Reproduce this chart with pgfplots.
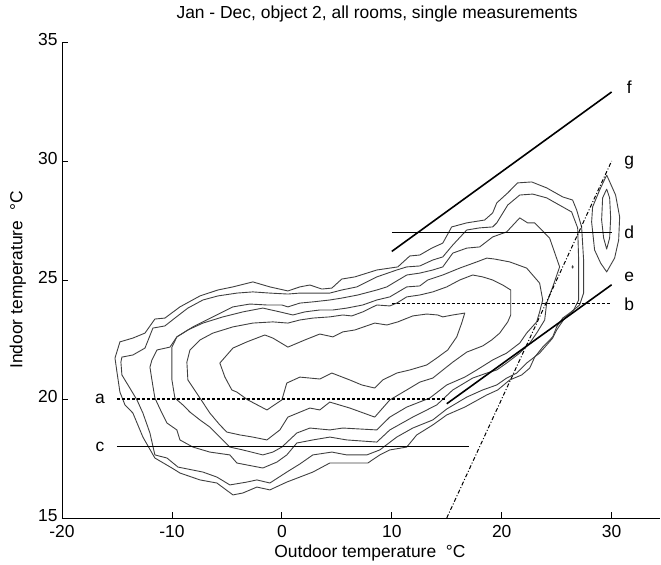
\documentclass[border=0pt]{standalone}
\usepackage{pgfplots}
\pgfplotsset{compat=1.18}
\usepackage{fontspec}
\setmainfont{Liberation Sans}
\begin{document}
\begin{tikzpicture}
\begin{axis}[
  scale only axis, width=598bp, height=476bp,
  xmin=-20, xmax=34.4, ymin=15, ymax=35,
  axis x line=bottom, axis y line=left,
  axis line style={-, line width=0.8bp, black},
  xtick={-20,-10,0,10,20,30}, ytick={15,20,25,30,35},
  tick align=inside, major tick length=6bp,
  tick style={line width=0.8bp, black},
  /pgf/number format/assume math mode=true,
  ticklabel style={font=\fontsize{17.5}{20}\selectfont},
  xticklabel style={yshift=-3.5bp},
  yticklabel style={xshift=-1bp, yshift=2.5bp},
  label style={font=\fontsize{17.5}{20}\selectfont},
  title style={font=\fontsize{17.5}{20}\selectfont, at={(axis description cs:0.527,1.046)}, anchor=center},
  title={Jan - Dec, object 2, all rooms, single measurements},
  xlabel={Outdoor temperature \ °C},
  ylabel={Indoor temperature \ °C},
  xlabel style={at={(axis description cs:0.515,-0.0735)}, anchor=center},
  ylabel style={at={(axis description cs:-0.0736,0.5)}, anchor=center, rotate=0},
  clip=false,
  every axis plot/.append style={no markers, line join=round},
  cont/.style={black!75, line width=0.9bp},
  ln/.style={black, line width=1.6bp},
]
% contour 1 (outermost)
\addplot[cont] coordinates {(-15.18,21.72) (-14.73,22.40) (-13.55,22.56) (-12.45,22.77) (-11.55,23.36) (-10.64,23.40) (-9.27,23.87) (-7.45,24.33) (-5.82,24.58) (-4.45,24.71) (-2.64,24.92) (-1.09,24.71) (0.55,24.54) (1.64,24.71) (2.55,24.79) (3.64,24.62) (4.55,24.66) (5.45,25.04) (6.64,25.13) (8.64,25.42) (10.55,25.55) (11.64,26.01) (12.55,26.05) (13.64,26.34) (14.64,26.55) (15.45,27.23) (16.82,27.40) (18.45,27.52) (19.18,27.82) (19.55,28.24) (20.55,28.66) (21.45,29.08) (22.73,29.12) (24.09,28.87) (25.55,28.49) (26.45,28.36) (26.82,27.94) (27.27,27.23) (27.45,25.84) (27.45,24.45) (27.09,23.95) (26.18,23.61) (25.55,23.40) (25.00,23.03) (24.64,22.61) (23.73,22.18) (23.00,21.76) (22.55,21.30) (21.82,21.01) (20.73,20.80) (19.64,20.38) (18.64,20.17) (17.82,19.96) (16.64,19.66) (15.00,19.33) (13.73,18.91) (12.27,18.49) (11.36,17.98) (9.82,17.86) (8.91,17.65) (7.82,17.31) (5.91,17.31) (4.36,17.31) (2.82,16.93) (1.64,16.72) (0.45,16.51) (-1.09,16.18) (-2.27,16.30) (-3.55,16.05) (-4.45,15.97) (-5.91,16.47) (-7.45,16.60) (-9.27,16.89) (-10.00,17.10) (-11.55,17.52) (-12.64,18.40) (-13.55,19.41) (-14.27,19.75) (-14.73,20.29) (-15.00,21.13) (-15.18,21.72)};
% contour 2
\addplot[cont] coordinates {(-14.64,21.55) (-14.55,21.76) (-13.55,21.85) (-12.45,22.14) (-11.73,22.98) (-10.64,23.07) (-9.73,23.40) (-8.55,23.82) (-7.18,24.16) (-5.82,24.33) (-4.09,24.45) (-2.64,24.50) (-1.09,24.45) (0.55,24.41) (1.64,24.45) (2.82,24.45) (4.36,24.45) (5.45,24.58) (6.82,24.71) (8.64,25.13) (10.45,25.42) (11.36,25.55) (12.55,25.59) (13.73,25.84) (14.64,25.97) (15.55,26.47) (16.82,27.10) (18.00,27.19) (19.18,27.23) (19.55,27.40) (20.55,28.15) (21.64,28.57) (22.82,28.61) (24.09,28.45) (25.55,28.07) (26.36,27.86) (26.91,27.19) (27.00,25.84) (27.00,24.16) (26.55,23.74) (25.73,23.40) (25.00,22.90) (24.64,22.56) (23.45,21.93) (22.27,21.51) (21.36,21.09) (20.45,20.88) (19.55,20.59) (18.27,20.38) (16.82,20.08) (15.91,19.83) (15.00,19.58) (13.73,19.12) (11.91,18.78) (10.45,18.40) (8.91,17.86) (7.73,17.65) (5.91,17.65) (4.55,17.77) (2.82,17.65) (1.64,17.27) (0.45,16.93) (-1.09,16.47) (-2.27,16.60) (-3.18,16.51) (-4.73,16.39) (-5.91,16.72) (-7.18,16.93) (-9.45,17.14) (-10.45,17.52) (-11.55,17.65) (-12.00,18.57) (-12.64,19.41) (-13.18,19.96) (-14.00,20.59) (-14.55,21.01) (-14.64,21.55)};
% contour 3
\addplot[cont] coordinates {(-12.00,21.34) (-11.82,21.64) (-11.36,22.06) (-10.18,22.18) (-9.55,22.61) (-8.09,23.03) (-6.27,23.45) (-4.45,23.87) (-2.91,23.99) (-1.36,23.95) (0.00,23.95) (0.55,23.87) (1.64,24.03) (2.82,24.08) (4.36,24.16) (5.45,24.24) (6.91,24.37) (8.64,24.58) (9.55,24.71) (11.36,25.21) (12.55,25.29) (13.73,25.42) (14.64,25.55) (15.55,26.13) (16.82,26.34) (18.00,26.39) (19.18,26.81) (20.45,27.02) (21.64,27.61) (22.36,27.40) (23.00,27.40) (24.36,26.76) (25.27,25.55) (24.64,24.71) (24.09,24.03) (23.91,23.32) (23.18,22.77) (22.55,22.35) (21.64,21.93) (20.45,21.51) (19.55,21.22) (18.64,21.09) (17.36,20.88) (15.55,20.38) (14.09,19.75) (11.91,19.24) (9.82,18.70) (8.64,18.19) (5.91,18.28) (4.36,18.40) (2.82,18.28) (1.36,18.15) (0.45,17.65) (-0.45,17.35) (-1.73,17.10) (-4.09,17.31) (-4.73,17.65) (-6.55,17.77) (-8.09,17.98) (-9.27,18.28) (-9.55,18.70) (-10.45,18.99) (-10.91,19.41) (-11.55,20.04) (-11.82,20.80) (-12.00,21.34)};
% contour 4
\addplot[cont] coordinates {(-10.00,21.51) (-10.00,22.18) (-9.55,22.61) (-8.55,22.90) (-7.18,23.19) (-5.36,23.45) (-3.55,23.66) (-1.73,23.82) (-0.18,23.66) (1.00,23.53) (2.09,23.66) (3.45,23.74) (4.64,23.74) (5.91,23.82) (7.36,23.95) (8.64,24.16) (9.82,24.29) (11.36,24.71) (12.55,24.75) (13.27,25.00) (14.64,25.21) (16.18,25.50) (17.73,25.76) (18.64,25.92) (19.36,25.88) (20.73,25.76) (22.27,25.50) (23.45,24.87) (23.73,24.16) (23.45,23.66) (23.18,23.24) (22.27,22.77) (21.64,22.35) (20.45,21.93) (19.18,21.64) (17.73,21.22) (16.64,20.92) (15.00,20.59) (13.45,20.04) (11.36,19.66) (9.82,19.24) (8.64,18.70) (5.55,18.78) (4.36,18.70) (2.55,18.78) (1.36,18.57) (0.00,17.98) (-0.82,17.77) (-1.73,17.65) (-3.55,17.86) (-4.73,17.98) (-5.64,18.40) (-6.55,18.82) (-7.45,19.12) (-8.36,19.45) (-9.00,19.75) (-9.73,20.04) (-10.00,20.80) (-10.00,21.51)};
% contour 5
\addplot[cont] coordinates {(-8.64,21.55) (-8.36,22.06) (-7.45,22.48) (-6.27,22.77) (-4.45,23.03) (-2.64,23.19) (-0.82,23.24) (0.55,23.19) (1.64,23.32) (2.82,23.40) (4.36,23.45) (5.55,23.53) (6.36,23.49) (7.36,23.66) (8.64,23.95) (9.82,23.91) (10.45,24.03) (11.36,24.29) (12.55,24.37) (13.73,24.50) (15.00,24.71) (16.18,25.00) (17.36,25.21) (18.27,25.13) (19.18,25.00) (20.09,24.79) (20.82,24.58) (20.82,23.53) (20.55,23.24) (19.82,22.77) (19.09,22.48) (18.27,22.23) (16.82,21.97) (15.55,21.55) (13.73,20.88) (12.55,20.71) (11.36,20.38) (9.82,19.96) (8.45,19.24) (6.18,19.62) (4.36,19.87) (3.45,19.54) (2.55,19.62) (0.55,19.24) (-0.18,18.70) (-1.36,18.28) (-2.64,18.40) (-3.82,18.49) (-5.00,18.61) (-5.64,18.91) (-6.55,19.41) (-7.45,20.04) (-8.55,20.80) (-8.64,21.55)};
% contour 6 (innermost)
\addplot[cont] coordinates {(-5.64,21.51) (-4.45,22.14) (-3.18,22.40) (-1.55,22.69) (-0.82,22.56) (0.55,22.18) (2.09,22.48) (3.45,22.73) (4.64,22.61) (5.55,22.82) (6.64,22.90) (8.45,23.19) (9.55,23.11) (10.55,23.24) (11.91,23.49) (13.18,23.57) (14.18,23.53) (14.64,23.45) (15.55,23.53) (16.64,23.61) (16.36,23.19) (15.91,22.61) (15.09,22.06) (14.09,21.72) (13.18,21.43) (11.64,21.22) (10.45,21.09) (9.18,20.80) (8.45,20.46) (7.27,20.59) (6.18,20.80) (4.55,21.09) (3.45,20.84) (1.64,20.92) (0.45,20.67) (0.00,19.96) (-1.36,19.54) (-3.09,19.96) (-4.09,20.29) (-4.55,20.38) (-5.18,20.92) (-5.64,21.51)};
% island, outer and inner
\addplot[cont] coordinates {(29.55,29.41) (28.91,28.78) (28.27,28.07) (28.18,27.44) (28.45,26.26) (29.00,25.71) (29.55,25.34) (30.27,25.92) (30.64,26.68) (30.73,27.65) (30.36,28.57) (29.55,29.41)};
\addplot[cont] coordinates {(29.55,28.82) (29.18,28.45) (29.09,27.52) (29.27,26.77) (29.55,26.30) (29.82,26.77) (29.91,27.61) (29.82,28.45) (29.55,28.82)};
% tiny contour
\addplot[cont] coordinates {(26.40,25.55) (26.45,25.60) (26.50,25.55) (26.45,25.50) (26.40,25.55)};
% reference lines a-g
\addplot[ln, line width=1.4bp, dash pattern=on 3bp off 2bp] coordinates {(-15,20) (15,20)};
\addplot[ln] coordinates {(-15,18) (17,18)};
\addplot[ln, line width=1.4bp, dash pattern=on 3bp off 2bp] coordinates {(10,24) (30,24)};
\addplot[ln] coordinates {(10,27) (30,27)};
\addplot[ln] coordinates {(15,19.8) (30,24.8)};
\addplot[ln] coordinates {(10,26.2) (30,32.9)};
\addplot[black, line width=1bp, dash pattern=on 4bp off 2bp on 1bp off 2bp] coordinates {(15,15) (30,30)};
\begin{scope}[every node/.style={font=\fontsize{17.5}{20}\selectfont, inner sep=0pt}]
\node at (axis cs:-16.55,20) {a};
\node at (axis cs:-16.55,18) {c};
\node at (axis cs:31.6,24) {b};
\node at (axis cs:31.6,27) {d};
\node at (axis cs:31.6,25.15) {e};
\node at (axis cs:31.6,33.1) {f};
\node at (axis cs:31.6,29.95) {g};
\end{scope}
\end{axis}
\pgfresetboundingbox
\path[use as bounding box] (-62bp,-47bp) rectangle (599bp,518bp);
\end{tikzpicture}
\end{document}
